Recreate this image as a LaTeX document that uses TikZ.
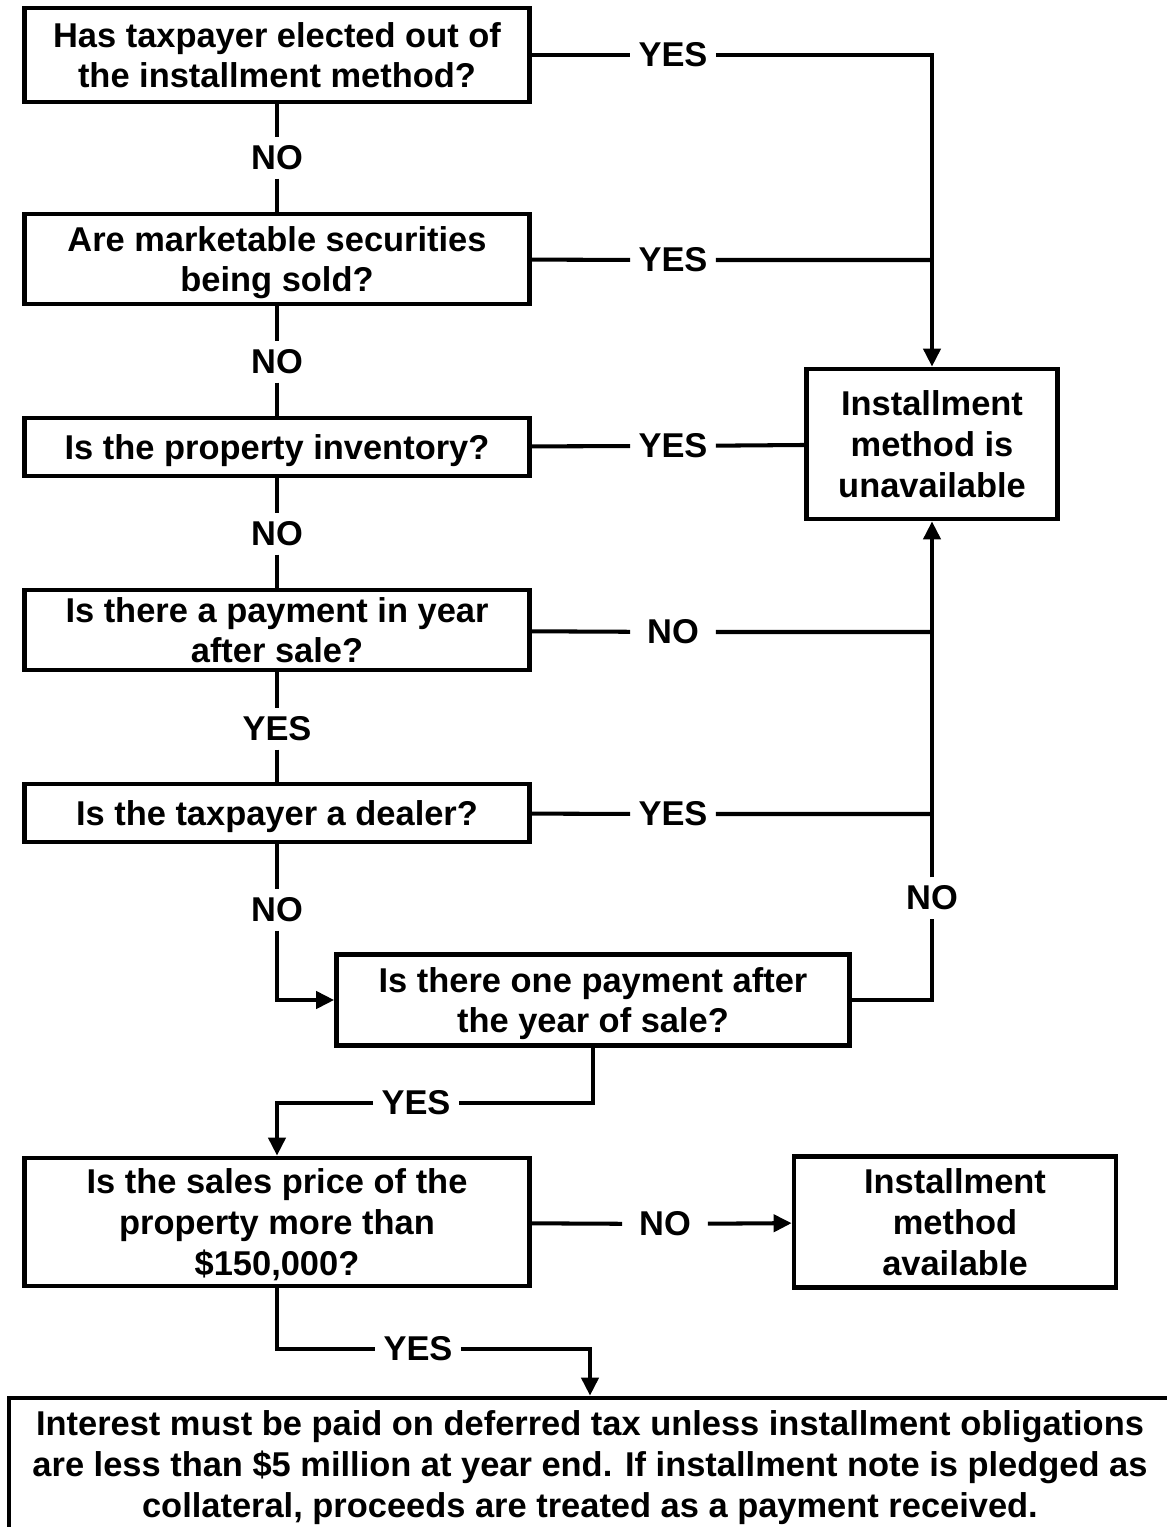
\documentclass[tikz,border=0pt]{standalone}
\usepackage{fontspec}
\setmainfont{Liberation Sans}
\usetikzlibrary{arrows.meta}

\begin{document}
\begin{tikzpicture}[
  x=0.02cm, y=-0.02cm,
  every node/.style={font=\bfseries\fontsize{19.6pt}{23.3pt}\selectfont},
  qbox/.style={draw, line width=2.7pt, align=center, inner sep=0pt, text depth=0pt, minimum width=#1},
  qbox/.default=10.1cm,
  ans/.style={inner xsep=0pt, inner ysep=0.16cm, minimum width=1.7cm},
  conn/.style={line width=2.3pt},
  tip/.style={-{Triangle[length=0.36cm,width=0.34cm]}}
  ]
  \useasboundingbox (0,0) rectangle (1166,1527);

  % question boxes, left column
  \node[qbox, minimum height=1.88cm] (NElect) at (277,55)
    {Has taxpayer elected out of\\the installment method?};
  \node[qbox, minimum height=1.8cm] (NSecur) at (277,259)
    {Are marketable securities\\being sold?};
  \node[qbox, minimum height=1.16cm] (NInvent) at (277,447)
    {Is the property inventory?};
  \node[qbox, minimum height=1.6cm] (NPay) at (277,630)
    {Is there a payment in year\\after sale?};
  \node[qbox, minimum height=1.16cm] (NDealer) at (277,813)
    {Is the taxpayer a dealer?};
  \node[qbox=10.26cm, minimum height=1.82cm] (NOne) at (593,1000)
    {Is there one payment after\\the year of sale?};
  \node[qbox, minimum height=2.56cm] (NPrice) at (277,1222)
    {Is the sales price of the\\property more than\\\$150,000?};

  % outcomes
  \node[qbox=5.02cm, minimum height=3cm] (NUnavail) at (932,444)
    {Installment\\method is\\unavailable};
  \node[qbox=6.44cm, minimum height=2.62cm] (NAvail) at (955,1222)
    {Installment\\method\\available};
  \node[qbox=23.24cm, minimum height=2.8cm, text depth=] (NInterest) at (590,1468)
    {Interest must be paid on deferred tax unless installment obligations\\
     are less than \$5 million at year end. If installment note is pledged as\\
     collateral, proceeds are treated as a payment received.};

  % answers
  \node[ans] (NElectYes)   at (673,55)   {YES};
  \node[ans] (NElectNo)    at (277,158)  {NO};
  \node[ans] (NSecurYes)   at (673,260)  {YES};
  \node[ans] (NSecurNo)    at (277,362)  {NO};
  \node[ans] (NInventYes)  at (673,446)  {YES};
  \node[ans] (NInventNo)   at (277,534)  {NO};
  \node[ans] (NPayNo)      at (673,632)  {NO};
  \node[ans] (NPayYes)     at (277,729)  {YES};
  \node[ans] (NDealerYes)  at (673,814)  {YES};
  \node[ans] (NDealerNo)   at (277,910)  {NO};
  \node[ans] (NOneNo)      at (932,898)  {NO};
  \node[ans] (NOneYes)     at (416,1103) {YES};
  \node[ans] (NPriceNo)    at (665,1224) {NO};
  \node[ans] (NPriceYes)   at (418,1349) {YES};

  % down the left column
  \draw[conn] (NElect) -- (NElectNo) -- (NSecur);
  \draw[conn] (NSecur) -- (NSecurNo) -- (NInvent);
  \draw[conn] (NInvent) -- (NInventNo) -- (NPay);
  \draw[conn] (NPay) -- (NPayYes) -- (NDealer);
  \draw[conn,tip] (NDealer) -- (NDealerNo) -- (NDealerNo |- NOne) -- (NOne);

  % over to the right column
  \draw[conn,tip] (NElect) -- (NElectYes) -- (NElectYes -| NUnavail) -- (NUnavail);
  \draw[conn] (NSecur) -- (NSecurYes) -- (NSecurYes -| NUnavail);
  \draw[conn] (NInvent) -- (NInventYes) -- (NUnavail);
  \draw[conn] (NPay) -- (NPayNo) -- (NPayNo -| NUnavail);
  \draw[conn] (NDealer) -- (NDealerYes) -- (NDealerYes -| NUnavail);
  \draw[conn] (NOne) -- (NOne -| NOneNo) -- (NOneNo);
  \draw[conn,tip] (NOneNo) -- (NUnavail);

  % lower part
  \draw[conn,tip] (NOne) -- (NOne |- NOneYes) -- (NOneYes) -- (NOneYes -| NPrice) -- (NPrice);
  \draw[conn,tip] (NPrice) -- (NPriceNo) -- (NAvail);
  \draw[conn,tip] (NPrice) -- (NPrice |- NPriceYes) -- (NPriceYes) -- (NPriceYes -| NInterest) -- (NInterest);
\end{tikzpicture}
\end{document}
